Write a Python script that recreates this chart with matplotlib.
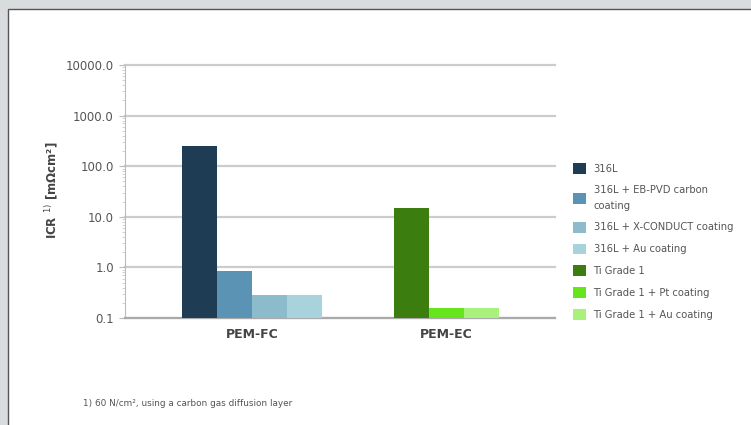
import matplotlib
matplotlib.use("Agg")
import matplotlib.pyplot as plt
from matplotlib.patches import Rectangle, Patch
from matplotlib.ticker import FixedLocator, FuncFormatter, LogLocator, NullFormatter

groups = ["PEM-FC", "PEM-EC"]
fc_labels = ["316L", "316L + EB-PVD carbon\ncoating", "316L + X-CONDUCT coating", "316L + Au coating"]
fc_values = [250, 0.85, 0.28, 0.28]
fc_colors = ["#1e3d55", "#5b93b5", "#8cbccb", "#a9d3dc"]
ec_labels = ["Ti Grade 1", "Ti Grade 1 + Pt coating", "Ti Grade 1 + Au coating"]
ec_values = [15, 0.16, 0.16]
ec_colors = ["#3c7d10", "#66e41c", "#aaf07c"]
yticks = [0.1, 1, 10, 100, 1000, 10000]

W, H = 751, 425
fig = plt.figure(figsize=(W / 100, H / 100), dpi=100)
fig.patch.set_facecolor("#d9dcdc")
fig.patches.append(Rectangle((8 / W, -0.1), 1.2, (H - 9) / H + 0.1, transform=fig.transFigure,
                             facecolor="white", edgecolor="#555555", linewidth=1.0, zorder=-5))

ax = fig.add_axes([125 / W, (H - 318) / H, 430 / W, (318 - 65) / H])
ax.set_zorder(2)
ax.set_facecolor("none")
width = 1.0
centers = [3.63, 9.19]
for g, (vals, cols, labs) in enumerate([(fc_values, fc_colors, fc_labels), (ec_values, ec_colors, ec_labels)]):
    n = len(vals)
    for i, (v, c) in enumerate(zip(vals, cols)):
        x = centers[g] + (i - (n - 1) / 2) * width
        ax.bar(x, v - 0.1, bottom=0.1, width=width, color=c, zorder=3)

ax.set_yscale("log")
ax.set_ylim(0.1, 10000)
ax.set_xlim(0, 12.29)
ax.yaxis.set_major_locator(FixedLocator(yticks))
ax.yaxis.set_major_formatter(FuncFormatter(lambda v, p: f"{v:.1f}"))
ax.yaxis.set_minor_locator(LogLocator(base=10, subs=range(2, 10)))
ax.yaxis.set_minor_formatter(NullFormatter())
ax.grid(axis="y", which="major", color="#cccccc", linewidth=1.6, zorder=1)
for gl in ax.get_ygridlines():
    gl.set_clip_on(False)
ax.set_xticks(centers)
ax.set_xticklabels(groups, fontsize=9, fontweight="bold", color="#444444")
ax.tick_params(axis="x", length=0, pad=7)
ax.tick_params(axis="y", which="major", length=4, color="#bbbbbb", labelsize=8.5, labelcolor="#555555", pad=4)
ax.tick_params(axis="y", which="minor", length=2.5, color="#cccccc")
for s in ["top", "right"]:
    ax.spines[s].set_visible(False)
ax.spines["left"].set_color("#bbbbbb")
ax.spines["bottom"].set_color("#aaaaaa")
ax.spines["bottom"].set_linewidth(1.6)

fig.text(52 / W, 1 - 190 / H, "ICR $^{1)}$ [mΩcm²]", rotation=90, ha="center", va="center",
         fontsize=8.5, fontweight="bold", color="#444444")

handles = [Patch(facecolor=c) for c in fc_colors + ec_colors]
leg = fig.legend(handles, fc_labels + ec_labels, loc="upper left",
                 bbox_to_anchor=(569 / W, 1 - 159 / H), frameon=False, fontsize=7.2,
                 handlelength=1.3, handleheight=1.3, handletextpad=0.75, labelspacing=1.09,
                 borderaxespad=0)
for t in leg.get_texts():
    t.set_color("#555555")
    t.set_linespacing(1.75)

fig.text(83 / W, 1 - 403 / H, "1) 60 N/cm², using a carbon gas diffusion layer",
         fontsize=6.4, color="#555555", ha="left", va="center")

fig.savefig("out.png", dpi=100, facecolor=fig.get_facecolor())
